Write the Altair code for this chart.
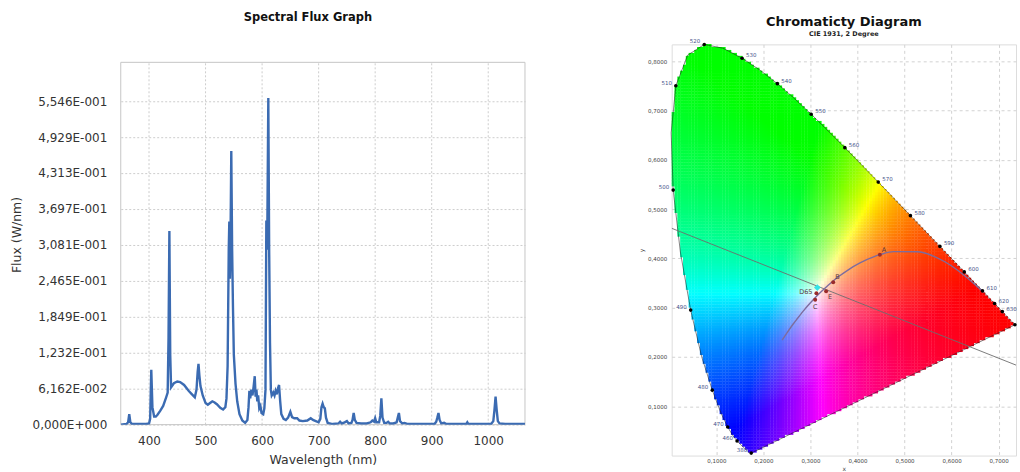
import numpy as np
import pandas as pd
import altair as alt

# ---------------- Spectral flux data ----------------
WAVELENGTH = [350, 360, 363, 365, 367, 370, 380, 395, 400, 402, 404, 406, 409, 412, 415, 420, 425, 430, 433,
              434.5, 436, 437.5, 439, 444, 450, 455, 462, 470, 476, 481, 484, 486, 487.5, 489, 491, 495, 500,
              504, 508, 512, 516, 520, 526, 531, 535, 537, 539, 541, 542, 543, 544, 545.5, 547, 548.5, 550,
              553, 556, 560, 565, 570, 574, 576, 577.5, 579, 581, 583, 585, 587, 588.5, 590, 591.5, 593, 595,
              597, 599, 602, 604, 606, 607.5, 609, 611, 612.5, 614, 615.5, 617, 620, 622, 624, 626, 628, 630,
              632, 634, 638, 642, 646, 650, 653, 657, 662, 666, 672, 680, 686, 690, 695, 700, 703, 705, 707,
              709, 711, 713, 716, 725, 735, 738, 741, 746, 750, 753, 758, 760, 762, 764, 767, 775, 785, 792,
              795, 798, 800, 802, 807, 809, 811, 813, 816, 820, 823, 826, 832, 838, 840, 842, 844, 848, 852,
              858, 870, 890, 905, 908, 910, 912, 914, 917, 922, 926, 940, 955, 961, 963, 965, 980, 1005, 1009,
              1011, 1013, 1015, 1017, 1020, 1030, 1065]
FLUX = [0.000, 0.001, 0.004, 0.018, 0.004, 0.001, 0.001, 0.001, 0.002, 0.010, 0.094, 0.030, 0.014, 0.014,
        0.017, 0.024, 0.032, 0.046, 0.055, 0.150, 0.332, 0.120, 0.064, 0.071, 0.074, 0.073, 0.068, 0.058,
        0.052, 0.047, 0.060, 0.090, 0.104, 0.085, 0.066, 0.050, 0.037, 0.034, 0.037, 0.040, 0.038, 0.035,
        0.029, 0.026, 0.030, 0.045, 0.100, 0.300, 0.348, 0.250, 0.300, 0.469, 0.300, 0.200, 0.120, 0.070,
        0.040, 0.018, 0.007, 0.003, 0.008, 0.030, 0.058, 0.045, 0.060, 0.050, 0.065, 0.083, 0.048, 0.060,
        0.040, 0.050, 0.028, 0.032, 0.020, 0.018, 0.028, 0.060, 0.350, 0.300, 0.560, 0.300, 0.140, 0.060,
        0.050, 0.055, 0.050, 0.058, 0.052, 0.062, 0.068, 0.040, 0.018, 0.010, 0.008, 0.012, 0.022, 0.013,
        0.011, 0.011, 0.007, 0.006, 0.007, 0.011, 0.008, 0.006, 0.004, 0.010, 0.030, 0.036, 0.030, 0.028,
        0.012, 0.003, 0.001, 0.002, 0.005, 0.002, 0.004, 0.006, 0.002, 0.003, 0.008, 0.020, 0.008, 0.003,
        0.002, 0.002, 0.004, 0.007, 0.005, 0.011, 0.004, 0.004, 0.015, 0.045, 0.012, 0.003, 0.003, 0.005,
        0.002, 0.002, 0.004, 0.012, 0.020, 0.006, 0.002, 0.003, 0.001, 0.001, 0.001, 0.001, 0.005, 0.012,
        0.020, 0.008, 0.002, 0.003, 0.001, 0.001, 0.001, 0.001, 0.004, 0.001, 0.001, 0.001, 0.006, 0.025,
        0.048, 0.025, 0.006, 0.002, 0.001, 0.001]

FLUX_TICK_STEP = 0.0616222
FLUX_TICK_LABELS = ["0,000E+000", "6,162E-002", "1,232E-001", "1,849E-001", "2,465E-001",
                    "3,081E-001", "3,697E-001", "4,313E-001", "4,929E-001", "5,546E-001"]
WL_TICKS = [400, 500, 600, 700, 800, 900, 1000]
WL_RANGE = [350, 1065]
FLUX_RANGE = [0.0, 0.621]

# ---------------- Chromaticity data ----------------
LOCUS_NM = list(range(380, 705, 5))
LOCUS_X = [0.1741, 0.1740, 0.1738, 0.1736, 0.1733, 0.1730, 0.1726, 0.1721, 0.1714, 0.1703, 0.1689, 0.1669,
           0.1644, 0.1611, 0.1566, 0.1510, 0.1440, 0.1355, 0.1241, 0.1096, 0.0913, 0.0687, 0.0454, 0.0235,
           0.0082, 0.0039, 0.0139, 0.0389, 0.0743, 0.1142, 0.1547, 0.1929, 0.2296, 0.2658, 0.3016, 0.3373,
           0.3731, 0.4087, 0.4441, 0.4788, 0.5125, 0.5448, 0.5752, 0.6029, 0.6270, 0.6482, 0.6658, 0.6801,
           0.6915, 0.7006, 0.7079, 0.7140, 0.7190, 0.7230, 0.7260, 0.7283, 0.7300, 0.7311, 0.7320, 0.7327,
           0.7334, 0.7340, 0.7344, 0.7346, 0.7347]
LOCUS_Y = [0.0050, 0.0050, 0.0049, 0.0049, 0.0048, 0.0048, 0.0048, 0.0048, 0.0051, 0.0058, 0.0069, 0.0086,
           0.0109, 0.0138, 0.0177, 0.0227, 0.0297, 0.0399, 0.0578, 0.0868, 0.1327, 0.2007, 0.2950, 0.4127,
           0.5384, 0.6548, 0.7502, 0.8120, 0.8338, 0.8262, 0.8059, 0.7816, 0.7543, 0.7243, 0.6923, 0.6589,
           0.6245, 0.5896, 0.5547, 0.5202, 0.4866, 0.4544, 0.4242, 0.3965, 0.3725, 0.3514, 0.3340, 0.3197,
           0.3083, 0.2993, 0.2920, 0.2859, 0.2809, 0.2770, 0.2740, 0.2717, 0.2700, 0.2689, 0.2680, 0.2673,
           0.2666, 0.2660, 0.2656, 0.2654, 0.2653]
MARKED_LEFT = [380, 460, 470, 480, 490, 500, 510, 520]
MARKED_RIGHT = [530, 540, 550, 560, 570, 580, 590, 600, 610, 620, 630]
MARKED_END = [700]

PLANCK_X = [0.2399, 0.2451, 0.2501, 0.2565, 0.2637, 0.2719, 0.2807, 0.2869, 0.2952, 0.3064, 0.3135, 0.3221,
            0.3325, 0.3451, 0.3608, 0.3805, 0.4053, 0.4369, 0.4476, 0.4770, 0.5267, 0.5857, 0.6528, 0.6670]
PLANCK_Y = [0.2342, 0.2418, 0.2489, 0.2577, 0.2673, 0.2776, 0.2884, 0.2956, 0.3048, 0.3166, 0.3236, 0.3318,
            0.3411, 0.3516, 0.3636, 0.3768, 0.3907, 0.4041, 0.4074, 0.4137, 0.4133, 0.3931, 0.3444, 0.3320]

ILLUM_NAMES = ["A", "B", "C", "D65", "E"]
ILLUM_X = [0.4476, 0.3484, 0.3101, 0.3127, 0.3333]
ILLUM_Y = [0.4074, 0.3516, 0.3162, 0.3290, 0.3333]

SAMPLE_X = [0.3146]
SAMPLE_Y = [0.3407]

DOM_LINE_X = [0.005, 0.737]
DOM_LINE_Y = [0.461, 0.1835]

CIE_X_TICKS = [0.1, 0.2, 0.3, 0.4, 0.5, 0.6, 0.7]
CIE_Y_TICKS = [0.1, 0.2, 0.3, 0.4, 0.5, 0.6, 0.7, 0.8]

FONT = "DejaVu Sans"

# ================= Left chart =================
# The left panel's frame starts 18 px below the right panel's, so its plot area
# is drawn taller and the visible frame/grid are drawn as marks.
LEFT_H_FRAME = 363
LEFT_EXTRA = 18
LEFT_H = LEFT_H_FRAME + LEFT_EXTRA
Y_TOP = FLUX_RANGE[1] * LEFT_H / LEFT_H_FRAME

flux_df = pd.DataFrame({"wl": WAVELENGTH, "flux": FLUX})
labels_js = "[" + ",".join("'%s'" % s for s in FLUX_TICK_LABELS) + "]"

XS = alt.Scale(domain=WL_RANGE, nice=False, zero=False)
YS = alt.Scale(domain=[0, Y_TOP], nice=False)
AXL_X = alt.Axis(values=WL_TICKS, format="d", title="Wavelength (nm)", grid=False, ticks=False,
                 domain=False, labelFontSize=12, labelFont=FONT, labelColor="#333", labelPadding=11,
                 titleFont=FONT, titleFontSize=12.5, titleFontWeight="normal", titleColor="#333",
                 titlePadding=7)
AXL_Y = alt.Axis(values=[i * FLUX_TICK_STEP for i in range(len(FLUX_TICK_LABELS))],
                 labelExpr=labels_js + "[round(datum.value/%s)]" % FLUX_TICK_STEP,
                 title="Flux (W/nm)", grid=True, gridDash=[2, 2], gridColor="#cdcdcd",
                 ticks=False, domain=False, labelFontSize=12, labelFont=FONT,
                 labelColor="#333", labelPadding=14, titleFont=FONT, titleFontSize=12.5,
                 titleFontWeight="normal", titleColor="#333", titlePadding=9)

vgrid_df = pd.DataFrame({"wl": WL_TICKS, "y0": FLUX_RANGE[0], "y1": FLUX_RANGE[1]})
vgrid = alt.Chart(vgrid_df).mark_rule(color="#cdcdcd", strokeDash=[2, 2], strokeWidth=1).encode(
    x=alt.X("wl:Q", scale=XS, axis=AXL_X),
    y=alt.Y("y0:Q", scale=YS, axis=AXL_Y), y2="y1:Q")

frame_df = pd.DataFrame({"x0": [WL_RANGE[0]], "x1": [WL_RANGE[1]], "y0": [FLUX_RANGE[0]], "y1": [FLUX_RANGE[1]]})
frame = alt.Chart(frame_df).mark_rect(fillOpacity=0, stroke="#c6c6c6", strokeWidth=1).encode(
    x=alt.X("x0:Q", scale=XS, axis=AXL_X), x2="x1:Q",
    y=alt.Y("y0:Q", scale=YS, axis=AXL_Y), y2="y1:Q")

spectrum = alt.Chart(flux_df).mark_line(color="#3b6bb2", strokeWidth=2.4, clip=True).encode(
    x=alt.X("wl:Q", scale=XS, axis=AXL_X),
    y=alt.Y("flux:Q", scale=YS, axis=AXL_Y),
)

left = alt.layer(vgrid, frame, spectrum).properties(
    width=405, height=LEFT_H,
    view=alt.ViewBackground(stroke="transparent"),
    title=alt.TitleParams("Spectral Flux Graph", font=FONT, fontSize=11.5, fontWeight="bold",
                          color="#111", anchor="middle", offset=21, dx=-15),
)

# ================= Right chart =================
XDOM = [0.005, 0.737]
YDOM = [0.0, 0.834]
AX_X = alt.Axis(values=CIE_X_TICKS, labelExpr="replace(format(datum.value, '.4f'), '.', ',')",
                title="x", grid=True, gridDash=[3, 3], gridColor="#d2d2d2", ticks=False, domain=False,
                labelFontSize=5.5, labelFont=FONT, labelColor="#444", labelPadding=3, titleFont=FONT,
                titleFontSize=6, titleFontWeight="normal", titleColor="#444", titlePadding=1)
AX_Y = alt.Axis(values=CIE_Y_TICKS, labelExpr="replace(format(datum.value, '.4f'), '.', ',')",
                title="y", grid=True, gridDash=[3, 3], gridColor="#d2d2d2", ticks=False, domain=False,
                labelFontSize=5.5, labelFont=FONT, labelColor="#444", labelPadding=5, titleFont=FONT,
                titleFontSize=6, titleFontWeight="normal", titleColor="#444", titlePadding=3)


def cx(field):
    return alt.X(field, type="quantitative", scale=alt.Scale(domain=XDOM, nice=False, zero=False), axis=AX_X)


def cy(field):
    return alt.Y(field, type="quantitative", scale=alt.Scale(domain=YDOM, nice=False, zero=False), axis=AX_Y)


# colour-filled horseshoe: small cells inside the spectral locus
STEP = 0.006
gx = np.arange(XDOM[0] + STEP / 2, XDOM[1], STEP)
gy = np.arange(STEP / 2, YDOM[1], STEP)
GX, GY = np.meshgrid(gx, gy)
px = GX.ravel()
py = GY.ravel()
vx = np.array(LOCUS_X)
vy = np.array(LOCUS_Y)
ins = np.zeros(px.shape, dtype=bool)
j = len(vx) - 1
for i in range(len(vx)):
    cond = ((vy[i] > py) != (vy[j] > py)) & (
        px < (vx[j] - vx[i]) * (py - vy[i]) / (vy[j] - vy[i] + 1e-12) + vx[i])
    ins ^= cond
    j = i
px = px[ins]
py = py[ins]
Xc = px / py
Zc = (1 - px - py) / py
rgb = np.stack([3.2406 * Xc - 1.5372 - 0.4986 * Zc,
                -0.9689 * Xc + 1.8758 + 0.0415 * Zc,
                0.0557 * Xc - 0.2040 + 1.0570 * Zc], axis=1)
rgb = np.clip(rgb, 0, None)
rgb = rgb / rgb.max(axis=1, keepdims=True)
rgb = np.power(rgb, 1 / 1.1)
hexes = ["#%02x%02x%02x" % tuple(v) for v in (rgb * 255).round().astype(int)]
cells = pd.DataFrame({"x": np.round(px - STEP / 2, 4), "y": np.round(py - STEP / 2, 4), "c": hexes})

cell_layer = alt.Chart(cells).mark_rect(strokeWidth=0).transform_calculate(
    x2="datum.x + %s" % (STEP * 1.12), y2="datum.y + %s" % (STEP * 1.12)
).encode(x=cx("x"), x2="x2:Q", y=cy("y"), y2="y2:Q", color=alt.Color("c:N", scale=None))

outline_df = pd.DataFrame({"x": LOCUS_X + [LOCUS_X[0]], "y": LOCUS_Y + [LOCUS_Y[0]],
                           "i": list(range(len(LOCUS_X) + 1))})
outline = alt.Chart(outline_df).mark_line(color="#202020", opacity=0.55, strokeWidth=1).encode(
    x=cx("x"), y=cy("y"), order="i:Q")

dom_df = pd.DataFrame({"x": DOM_LINE_X, "y": DOM_LINE_Y})
dom_line = alt.Chart(dom_df).mark_line(color="#6e6e6e", strokeWidth=0.9, clip=True).encode(
    x=cx("x"), y=cy("y"))

planck_df = pd.DataFrame({"x": PLANCK_X, "y": PLANCK_Y, "i": list(range(len(PLANCK_X)))})
planck = alt.Chart(planck_df).mark_line(color="#7d6c9e", strokeWidth=1.4, interpolate="monotone").encode(
    x=cx("x"), y=cy("y"), order="i:Q")

ill_df = pd.DataFrame({"name": ILLUM_NAMES, "x": ILLUM_X, "y": ILLUM_Y})
ill_pts = alt.Chart(ill_df).mark_circle(color="#9a2b2b", size=16, opacity=1).encode(x=cx("x"), y=cy("y"))
ILL_PLACE = {"A": ("left", 2, -5), "B": ("left", 2, -5), "C": ("center", 0, 7),
             "D65": ("right", -4, -1), "E": ("left", 2, 6)}
ill_text_layers = []
for nm in ILLUM_NAMES:
    al, ddx, ddy = ILL_PLACE[nm]
    ill_text_layers.append(
        alt.Chart(ill_df).transform_filter(alt.datum.name == nm).mark_text(
            align=al, baseline="middle", dx=ddx, dy=ddy, fontSize=6.5, font=FONT, color="#5b3a3a"
        ).encode(x=cx("x"), y=cy("y"), text="name:N"))

sample_df = pd.DataFrame({"x": SAMPLE_X, "y": SAMPLE_Y})
sample = alt.Chart(sample_df).mark_point(shape="diamond", filled=True, color="#38e3e6", size=45,
                                         opacity=1).encode(x=cx("x"), y=cy("y"))

lx = dict(zip(LOCUS_NM, LOCUS_X))
ly = dict(zip(LOCUS_NM, LOCUS_Y))
marked = MARKED_LEFT + MARKED_RIGHT + MARKED_END
mark_df = pd.DataFrame({"nm": marked, "x": [lx[n] for n in marked], "y": [ly[n] for n in marked],
                        "side": ["L"] * len(MARKED_LEFT) + ["R"] * len(MARKED_RIGHT) + ["E"] * len(MARKED_END)})
locus_dots = alt.Chart(mark_df).mark_circle(color="#000", size=13, opacity=1).encode(x=cx("x"), y=cy("y"))
lab_left = alt.Chart(mark_df).transform_filter(alt.datum.side == "L").mark_text(
    align="right", baseline="middle", dx=-4, dy=-3, fontSize=5.5, font=FONT, color="#47548a"
).encode(x=cx("x"), y=cy("y"), text="nm:N")
lab_right = alt.Chart(mark_df).transform_filter(alt.datum.side == "R").mark_text(
    align="left", baseline="middle", dx=4, dy=-3, fontSize=5.5, font=FONT, color="#47548a"
).encode(x=cx("x"), y=cy("y"), text="nm:N")

right = alt.layer(cell_layer, outline, dom_line, planck, ill_pts, *ill_text_layers, sample,
                  locus_dots, lab_left, lab_right).properties(
    width=345, height=412,
    title=alt.TitleParams("Chromaticty Diagram", subtitle="CIE 1931, 2 Degree", font=FONT, fontSize=13,
                          fontWeight="bold", color="#111", subtitleFont=FONT, subtitleFontSize=6.5,
                          subtitleFontWeight="bold", subtitleColor="#222", subtitlePadding=2,
                          anchor="middle", offset=2),
)

chart = alt.hconcat(left, right, spacing=112).properties(
    padding={"left": 9, "top": 11, "right": 2, "bottom": 0}
).configure_view(stroke="#c6c6c6", strokeWidth=1).configure(font=FONT, background="white")

chart.save("out.html", embed_options={"renderer": "svg", "actions": False})
